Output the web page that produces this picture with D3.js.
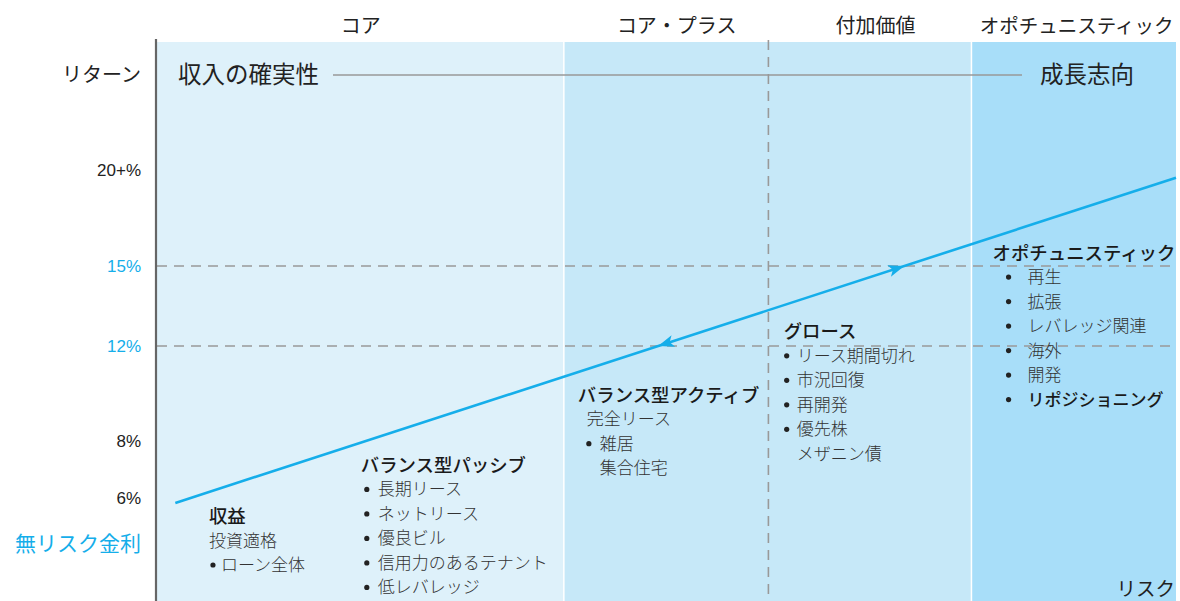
<!DOCTYPE html>
<meta charset="utf-8">
<style>
  body { margin: 0; background: #fff; }
  svg text { font-family: "Noto Sans CJK JP", "Noto Sans", sans-serif; }
  .tick-label { font-family: "Liberation Sans Narrow", "Liberation Sans", sans-serif; }
</style>
<div class="chart"></div>
<script src="https://cdn.jsdelivr.net/npm/d3@7"></script>
<script>
    // strategy bands along the risk axis (0-100)
    var bands = [
      {name: "core", from: 0, to: 40, color: "#def1fa"},
      {name: "value", from: 40, to: 80, color: "#c6e8f8"},
      {name: "opp", from: 80, to: 100, color: "#a8def9"}
    ];
    var headerLabels = ["コア", "コア・プラス", "付加価値", "オポチュニスティック"];
    var headerFrom = [0, 40, 60, 80];
    var headerTo = [40, 62, 81, 100.5];
    var dividerRisk = 60;

    // return axis (schematic, not evenly spaced)
    var returnTicks = [4, 6, 8, 12, 15, 20];
    var returnLabels = ["無リスク金利", "6%", "8%", "12%", "15%", "20+%"];
    var highlightTicks = [4, 12, 15];
    var dashedLevels = [12, 15];

    // risk / return line
    var lineRisk = [1.8, 100];
    var lineReturn = [5.78, 19.6];
    var arrowLevels = [15, 12];   // first points up, second points down

    var groups = [
      {title: "収益", risk: 5.1, top: 5.2, items: [
        {text: "投資適格", bullet: false},
        {text: "ローン全体", bullet: true}]},
      {title: "バランス型パッシブ", risk: 20, top: 7.16, items: [
        {text: "長期リース", bullet: true},
        {text: "ネットリース", bullet: true},
        {text: "優良ビル", bullet: true},
        {text: "信用力のあるテナント", bullet: true},
        {text: "低レバレッジ", bullet: true}]},
      {title: "バランス型アクティブ", risk: 41.3, top: 9.95, items: [
        {text: "完全リース", bullet: false},
        {text: "雑居", bullet: true},
        {text: "集合住宅", bullet: false, indent: true}]},
      {title: "グロース", risk: 61.5, top: 12.55, items: [
        {text: "リース期間切れ", bullet: true},
        {text: "市況回復", bullet: true},
        {text: "再開発", bullet: true},
        {text: "優先株", bullet: true},
        {text: "メザニン債", bullet: false, indent: true}]},
      {title: "オポチュニスティック", risk: 82, top: 15.7, items: [
        {text: "再生", bullet: true},
        {text: "拡張", bullet: true},
        {text: "レバレッジ関連", bullet: true},
        {text: "海外", bullet: true},
        {text: "開発", bullet: true},
        {text: "リポジショニング", bullet: true, strong: true}]}
    ];

    var width = 1180, height = 601;
    var blue = "#15aeea";

    var x = d3.scaleLinear().domain([0, 100]).range([157, 1176]);
    var y = d3.scaleLinear()
        .domain(returnTicks)
        .range([543, 498, 441, 346, 266, 170]);

    var svg = d3.select(".chart").append("svg")
        .attr("width", width)
        .attr("height", height);

    // bands
    svg.selectAll(".band")
      .data(bands)
      .enter().append("rect")
        .attr("class", "band")
        .attr("x", d => x(d.from))
        .attr("y", 42)
        .attr("width", d => x(d.to) - x(d.from) - (d.to < 100 ? 1.5 : 0))
        .attr("height", height - 42)
        .attr("fill", d => d.color);

    // headers
    svg.selectAll(".header")
      .data(headerLabels)
      .enter().append("text")
        .attr("x", (d, i) => (x(headerFrom[i]) + x(headerTo[i])) / 2)
        .attr("y", 33)
        .attr("text-anchor", "middle")
        .attr("font-size", (d, i) => i === 3 ? 19.5 : 20)
        .attr("fill", "#222")
        .text(d => d);

    // dashed lines
    svg.selectAll(".hdash")
      .data(dashedLevels)
      .enter().append("line")
        .attr("x1", x(0)).attr("x2", x(100))
        .attr("y1", d => y(d)).attr("y2", d => y(d))
        .attr("stroke", "#999")
        .attr("stroke-width", 1.6)
        .attr("stroke-dasharray", "10,7");

    svg.append("line")
        .attr("x1", x(dividerRisk)).attr("x2", x(dividerRisk))
        .attr("y1", 40).attr("y2", height)
        .attr("stroke", "#999")
        .attr("stroke-width", 1.6)
        .attr("stroke-dasharray", "10,7");

    // top row: certainty -> growth
    svg.append("line")
        .attr("x1", 333).attr("x2", 1022)
        .attr("y1", 75).attr("y2", 75)
        .attr("stroke", "#999")
        .attr("stroke-width", 1.6);

    svg.append("text")
        .attr("x", 178).attr("y", 83)
        .attr("font-size", 23.5).attr("fill", "#222")
        .text("収入の確実性");

    svg.append("text")
        .attr("x", 1040).attr("y", 83)
        .attr("font-size", 23.5).attr("fill", "#222")
        .text("成長志向");

    svg.append("text")
        .attr("x", 141).attr("y", 82)
        .attr("text-anchor", "end")
        .attr("font-size", 20).attr("fill", "#222")
        .text("リターン");

    // y axis
    var yAxis = d3.axisLeft(y)
        .tickValues(returnTicks)
        .tickSize(0)
        .tickPadding(0)
        .tickFormat((d, i) => returnLabels[i]);

    var gy = svg.append("g")
        .attr("transform", "translate(141,0)")
        .call(yAxis);
    gy.select(".domain").remove();
    gy.selectAll("text")
        .attr("class", d => d === 4 ? "" : "tick-label")
        .attr("font-size", d => d === 4 ? 21 : 17)
        .attr("font-family", null)
        .attr("fill", d => highlightTicks.indexOf(d) >= 0 ? blue : "#222")
        .attr("dy", "0.35em");

    svg.append("line")
        .attr("x1", 156).attr("x2", 156)
        .attr("y1", 39).attr("y2", height)
        .attr("stroke", "#666")
        .attr("stroke-width", 2.2);

    svg.append("text")
        .attr("x", 1175).attr("y", 596)
        .attr("text-anchor", "end")
        .attr("font-size", 19.5).attr("fill", "#222")
        .text("リスク");

    // risk/return line with arrows
    var pts = lineRisk.map((r, i) => [x(r), y(lineReturn[i])]);
    svg.append("path")
        .attr("d", d3.line()(pts))
        .attr("stroke", blue)
        .attr("stroke-width", 2.6)
        .attr("fill", "none");

    var angle = Math.atan2(pts[1][1] - pts[0][1], pts[1][0] - pts[0][0]) * 180 / Math.PI;
    svg.selectAll(".arrow")
      .data(arrowLevels)
      .enter().append("path")
        .attr("d", "M0,0 L-16,-6 L-12,0 L-16,6 Z")
        .attr("fill", blue)
        .attr("transform", (d, i) => {
          var py = y(d);
          var t = (py - pts[0][1]) / (pts[1][1] - pts[0][1]);
          var px = pts[0][0] + t * (pts[1][0] - pts[0][0]);
          var a = i === 0 ? angle : angle + 180;
          return "translate(" + px + "," + py + ") rotate(" + a + ")";
        });

    // strategy descriptions
    var g = svg.selectAll(".group")
      .data(groups)
      .enter().append("g")
        .attr("transform", d => "translate(" + x(d.risk) + "," + y(d.top) + ")");

    g.append("text")
        .attr("y", 7)
        .attr("font-size", 18.4)
        .attr("font-weight", 500)
        .attr("fill", "#1a1a1a")
        .text(d => d.title);

    g.each(function(d) {
      var sel = d3.select(this);
      var bulletX = 6, textX = 17;
      if (d.title === "収益") { bulletX = 4; textX = 12; }
      if (d.title === "バランス型アクティブ") { bulletX = 11; textX = 22; }
      if (d.title === "オポチュニスティック") { bulletX = 16; textX = 35; }
      if (d.title === "グロース") { bulletX = 3; textX = 13; }
      d.items.forEach((it, i) => {
        var cy = 24.5 * (i + 1);
        if (it.bullet) {
          sel.append("circle")
            .attr("cx", bulletX).attr("cy", cy)
            .attr("r", 2.6)
            .attr("fill", "#222");
        }
        var tx = it.bullet || it.indent ? textX : (d.title === "バランス型アクティブ" ? 9 : 0);
        sel.append("text")
          .attr("x", tx).attr("y", cy + 6)
          .attr("font-size", 17)
          .attr("font-weight", it.strong ? 500 : 300)
          .attr("fill", it.strong ? "#1a1a1a" : "#333")
          .text(it.text);
      });
    });
</script>
